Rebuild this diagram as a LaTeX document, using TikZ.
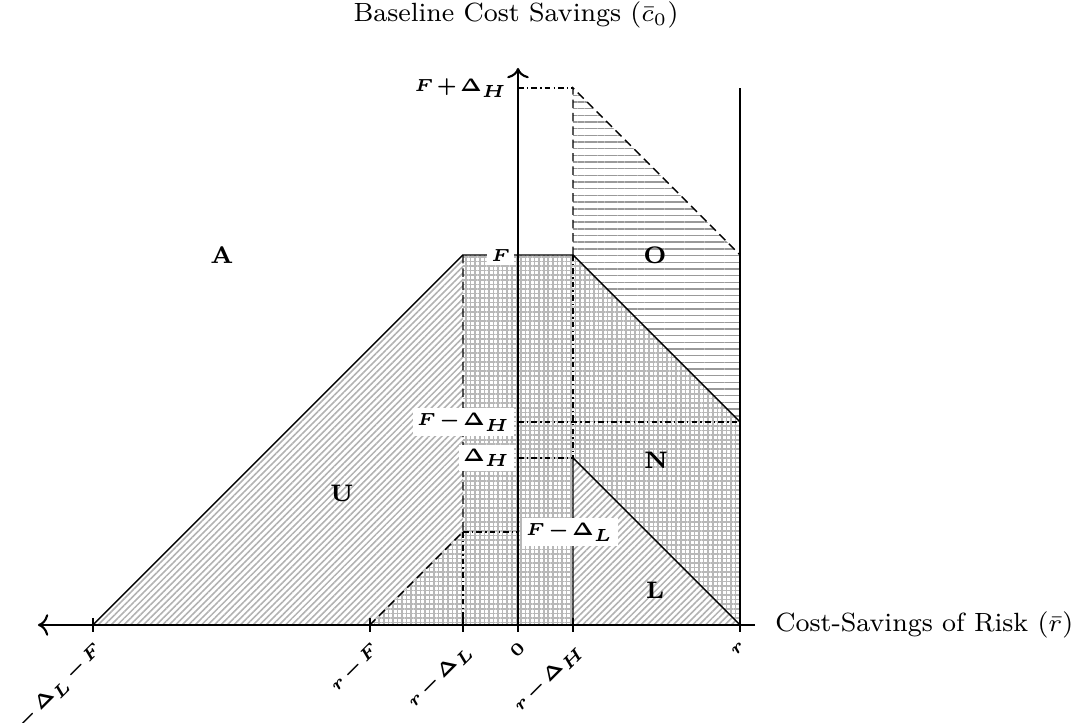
\documentclass[tikz,border=0pt]{standalone}
\usepackage{amsmath,amssymb,bm}
\usetikzlibrary{patterns.meta,arrows.meta,calc}
\newcommand{\labfont}{\fontsize{5pt}{6pt}\selectfont\boldmath\medmuskip=2mu\relax}

\begin{document}
\begin{tikzpicture}[diagfill/.style={pattern={Lines[angle=45,distance=1.3pt,line width=0.45pt]}, pattern color=black!30},
                    gridfill/.style={pattern={Hatch[angle=0,distance=1.3pt,line width=0.45pt]}, pattern color=black!28},
                    horzfill/.style={pattern={Lines[angle=0,distance=1.9pt,line width=0.4pt]}, pattern color=black!40},
                    guide/.style={thin, dash pattern=on 1.6pt off 0.9pt on 0.4pt off 0.9pt},
                    border/.style={thin, dash pattern=on 2.4pt off 1.4pt},
                    ticklab/.style={font=\labfont, rotate=45, anchor=north east, inner sep=1pt},
                    lvllab/.style={font=\labfont, fill=white, inner sep=1.2pt},
                    region/.style={font=\fontsize{6.8pt}{7pt}\selectfont\bfseries},
                    axtitle/.style={font=\fontsize{7.5pt}{9pt}\selectfont}]
\useasboundingbox (-5.18,-0.98) rectangle (5.57,6.25);
\coordinate (xa) at (-4.25,0);
\coordinate (xb) at (-1.48,0);
\coordinate (xc) at (-0.55,0);
\coordinate (xo) at (0,0);
\coordinate (xd) at (0.55,0);
\coordinate (xr) at (2.22,0);
\coordinate (pTL) at (-0.55,3.70);
\coordinate (pTR) at (0.55,3.70);
\coordinate (pMid) at (-0.55,0.93);
\coordinate (pLH) at (0.55,1.67);
\coordinate (pTop) at (0.55,5.37);
\coordinate (pRF) at (2.22,3.70);
\coordinate (pRM) at (2.22,2.03);
\coordinate (pRT) at (2.22,5.37);
\fill[diagfill] (xa) -- (pTL) -- (pMid) -- (xb) -- cycle;
\fill[gridfill] (xb) -- (pMid) -- (pTL) -- (pTR) -- (pRM) -- (xr) -- cycle;
\fill[white] (xd) -- (pLH) -- (xr) -- cycle;
\fill[diagfill] (xd) -- (pLH) -- (xr) -- cycle;
\fill[horzfill] (pTop) -- (pRF) -- (pRM) -- (pTR) -- cycle;
\draw[guide] (pMid) -- (xc);
\draw[guide] (pTR) -- (pLH);
\draw[guide] (0,5.37) -- (pTop);
\draw[guide] (0,2.03) -- (pRM);
\draw[guide] (0,1.67) -- (pLH);
\draw[guide] (pMid) -- (0,0.93);
\draw[border] (pTL) -- (pMid) -- (xb);
\draw[border] (pTR) -- (pTop) -- (pRF);
\draw[thin] (xa) -- (pTL) -- (pTR) -- (pRM);
\draw[thin] (xd) -- (pLH) -- (xr);
\draw[semithick] (xr) -- (pRT);
\draw[semithick, ->] (xo) -- (0,5.57);
\draw[semithick, ->] (2.37,0) -- (-4.80,0);
\foreach \t in {xa,xb,xc,xo,xd,xr} \draw[semithick] ($(\t)+(0,0.07)$) -- ($(\t)+(0,-0.07)$);
\node[ticklab] (la) at ($(xa)+(0,-0.1)$) {$r-\Delta_L-F$};
\node[ticklab] (lb) at ($(xb)+(0,-0.1)$) {$r-F$};
\node[ticklab] (lc) at ($(xc)+(0,-0.1)$) {$r-\Delta_L$};
\node[ticklab] (lo) at ($(xo)+(0,-0.1)$) {$0$};
\node[ticklab] (ld) at ($(xd)+(0,-0.1)$) {$r-\Delta_H$};
\node[ticklab] (lr) at ($(xr)+(0,-0.1)$) {$r$};
\node[lvllab, anchor=east] (lF) at (-0.03,3.70) {$F$};
\node[lvllab, anchor=east, fill=none] (lFH) at (-0.06,5.37) {$F+\Delta_H$};
\node[lvllab, anchor=east] (lFmH) at (-0.03,2.03) {$F-\Delta_H$};
\node[lvllab, anchor=east] (lDH) at (-0.03,1.67) {$\Delta_H$};
\node[lvllab, anchor=west] (lFmL) at (0.03,0.93) {$F-\Delta_L$};
\node[region] (rA) at (-2.96,3.70) {A};
\node[region] (rU) at (-1.76,1.32) {U};
\node[region] (rO) at (1.37,3.70) {O};
\node[region] (rN) at (1.38,1.65) {N};
\node[region] (rL) at (1.37,0.35) {L};
\node[axtitle] (ytitle) at (-0.02,6.10) {Baseline Cost Savings ($\bar{c}_0$)};
\node[axtitle, anchor=west] (xtitle) at (2.45,0) {Cost-Savings of Risk ($\bar{r}$)};
\end{tikzpicture}
\end{document}
